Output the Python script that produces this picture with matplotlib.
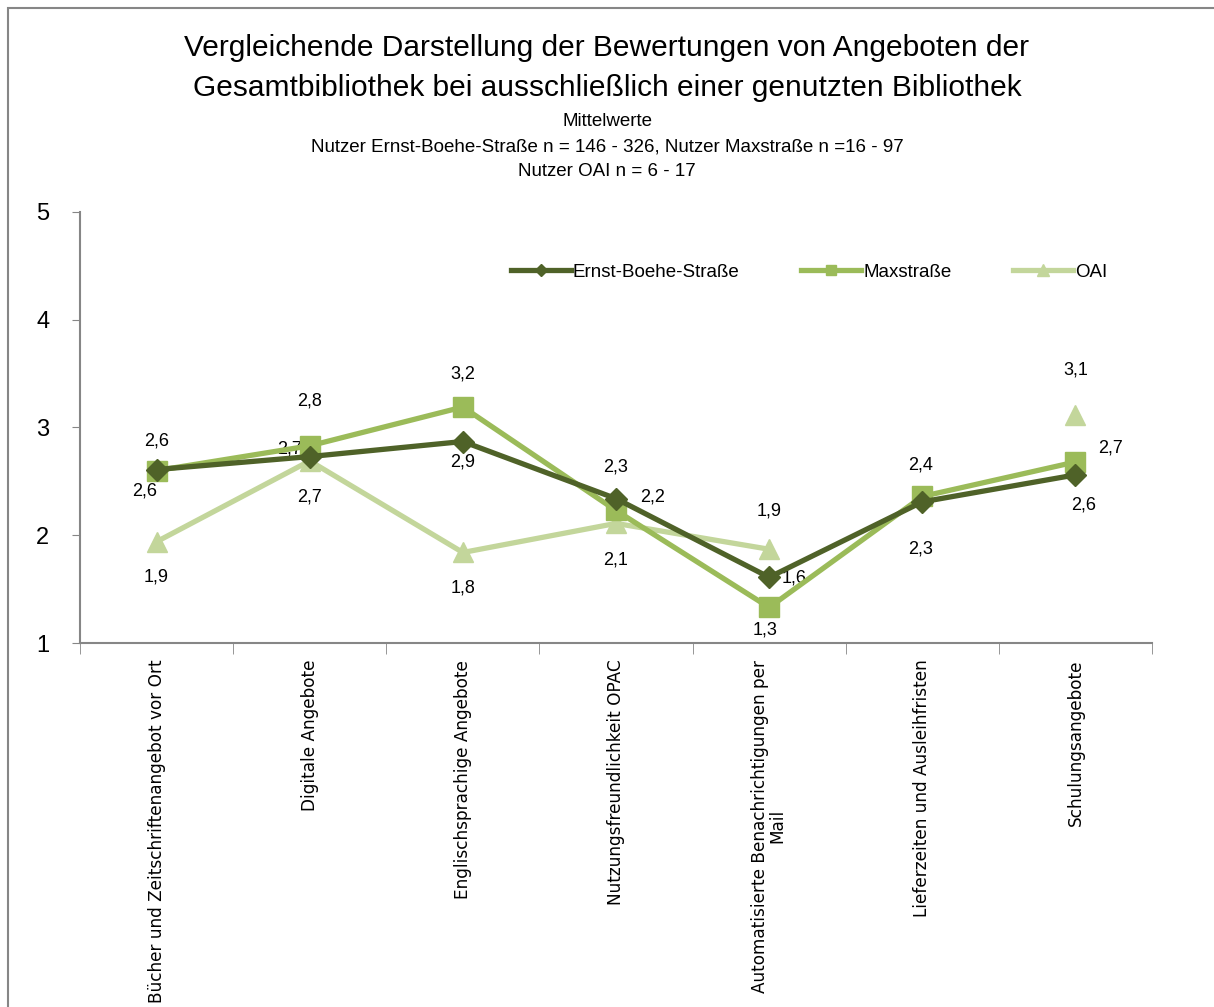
import numpy as np
import matplotlib.pyplot as plt
from matplotlib.patches import Rectangle

plt.rcParams['font.family'] = ['Liberation Sans', 'DejaVu Sans']

# Data
categories = ['Bücher und Zeitschriftenangebot vor Ort', 'Digitale Angebote',
              'Englischsprachige Angebote', 'Nutzungsfreundlichkeit OPAC',
              'Automatisierte Benachrichtigungen per\nMail',
              'Lieferzeiten und Ausleihfristen', 'Schulungsangebote']
ernst = [2.61, 2.73, 2.87, 2.34, 1.61, 2.31, 2.56]
max_str = [2.60, 2.83, 3.19, 2.23, 1.33, 2.36, 2.68]
oai = [1.94, 2.69, 1.84, 2.11, 1.87, np.nan, 3.12]
series_names = ['Ernst-Boehe-Straße', 'Maxstraße', 'OAI']

colors = ['#4F6228', '#9BBB59', '#C3D69B']
markers = ['D', 's', '^']
marker_sizes = [11, 14, 15]
zorders = [3.2, 3.1, 3.0]

# label offsets in pixels (dx, dy down) for each point
offsets = [
    [(-12, 21), (-20, -8), (0, 20), (0, -32), (25, 1), (-2, 47), (8, 30)],
    [(0, -30), (0, -45), (0, -33), (37, -13), (-4, 23), (-2, -31), (35, -14)],
    [(0, 35), (0, 36), (0, 36), (0, 37), (0, -38), (0, 0), (0, -45)],
]

fig = plt.figure(figsize=(12.14, 10.07), dpi=100)
ax = fig.add_axes([80 / 1214, 1 - 643 / 1007, 1072 / 1214, 431 / 1007])

# outer chart frame
fig.patches.append(Rectangle((8 / 1214, -0.05), 1.0, 1 - 8 / 1007 + 0.05,
                             transform=fig.transFigure, fill=False,
                             edgecolor='#868686', linewidth=1.5))

x = np.arange(len(categories))
for i, vals in enumerate([ernst, max_str, oai]):
    ax.plot(x, vals, color=colors[i], linewidth=3.8, marker=markers[i],
            markersize=marker_sizes[i], label=series_names[i], zorder=zorders[i])
    for j, v in enumerate(vals):
        if np.isnan(v):
            continue
        dx, dy = offsets[i][j]
        ax.annotate(f'{v:.1f}'.replace('.', ','), (j, v), xytext=(dx, -dy),
                    textcoords='offset pixels', ha='center', va='center',
                    fontsize=13, color='black')

ax.set_xlim(-0.5, len(categories) - 0.5)
ax.set_ylim(1, 5)
ax.set_yticks([1, 2, 3, 4, 5])
ax.tick_params(axis='y', labelsize=17, length=6, color='#868686', pad=16)

ax.set_xticks(x)
ax.set_xticklabels(categories, rotation=90, fontsize=12.2, family='DejaVu Sans',
                   linespacing=0.95)
ax.set_xticks(np.arange(-0.5, len(categories)), minor=True)
ax.tick_params(axis='x', which='major', length=0, pad=12)
ax.tick_params(axis='x', which='minor', length=8, color='#868686')

for s in ['top', 'right']:
    ax.spines[s].set_visible(False)
for s in ['left', 'bottom']:
    ax.spines[s].set_color('#868686')
    ax.spines[s].set_linewidth(1.5)

ax.legend(loc='center', bbox_to_anchor=(0.68, 0.86), ncol=3, frameon=False,
          fontsize=13.5, handlelength=3.2, handletextpad=0.1, columnspacing=3.3,
          markerscale=0.55)

fig.text(0.5, 1 - 48 / 1007, 'Vergleichende Darstellung der Bewertungen von Angeboten der',
         ha='center', va='center', fontsize=21.5)
fig.text(0.5, 1 - 88 / 1007, 'Gesamtbibliothek bei ausschließlich einer genutzten Bibliothek',
         ha='center', va='center', fontsize=21.5)
fig.text(0.5, 1 - 122 / 1007, 'Mittelwerte', ha='center', va='center', fontsize=13.5)
fig.text(0.5, 1 - 147 / 1007,
         'Nutzer Ernst-Boehe-Straße n = 146 - 326, Nutzer Maxstraße n =16 - 97',
         ha='center', va='center', fontsize=13.5)
fig.text(0.5, 1 - 172 / 1007, 'Nutzer OAI n = 6 - 17', ha='center', va='center', fontsize=13.5)

fig.savefig('out.png', dpi=100)
